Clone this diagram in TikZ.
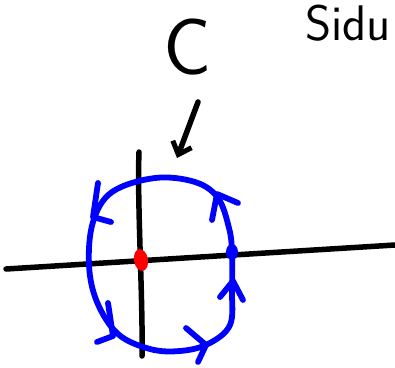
\documentclass[tikz,border=0pt]{standalone}
\usetikzlibrary{arrows.meta,shapes.geometric}
\begin{document}
\begin{tikzpicture}[x=1pt,y=-1pt,
  axis/.style={line width=5.5pt,line cap=round,black},
  loop/.style={line width=5.8pt,line cap=round,line join=round,blue},
  chev/.style={line width=5.8pt,line cap=round,line join=round,blue},
  dot/.style={ellipse,inner sep=0pt,minimum width=#1},
  hand/.style={font=\sffamily,inner sep=0pt}]
\useasboundingbox (0,0) rectangle (395,367);
% axes
\coordinate (xl) at (6,269);
\coordinate (xr) at (395,245);
\coordinate (yt) at (139,152);
\coordinate (yb) at (142,356);
\draw[axis] (xl) -- (xr);
\draw[axis] (yt) .. controls (137,200) and (143,300) .. (yb);
% loop
\draw[loop] plot[smooth cycle,tension=0.6] coordinates {
 (155,178) (195,182) (218,198) (229,228) (232,252) (232,290) (230,325)
 (208,344) (180,351) (150,349) (118,334) (97,302) (89,265) (93,222) (112,192)};
% chevrons
\draw[chev] (98,183) -- (93,217) -- (111,222);
\draw[chev] (108,303) -- (113,336) -- (97,342);
\draw[chev] (186,328) -- (206,345) -- (198,362);
\draw[chev] (220,297) -- (233,281) -- (243,300);
\draw[chev] (212,220) -- (217,194) -- (238,203);
% points
\node[dot=14pt,minimum height=22pt,fill=red,rotate=10] (r) at (141,260) {};
\node[dot=12pt,minimum height=16pt,fill=blue] (b) at (232,252) {};
% label C and arrow
\node[hand,font=\sffamily\fontsize{80}{80}\selectfont] (c) at (188,47) {C};
\coordinate (as) at (198,102);
\coordinate (ae) at (177,158);
\draw[axis,-{Straight Barb[length=11pt,width=20pt,line width=5pt]}] (as) -- (ae);
% Sidu text
\node[hand,anchor=north east,font=\sffamily\fontsize{50}{50}\selectfont] (s) at (391,5) {Sidu};
\end{tikzpicture}
\end{document}
